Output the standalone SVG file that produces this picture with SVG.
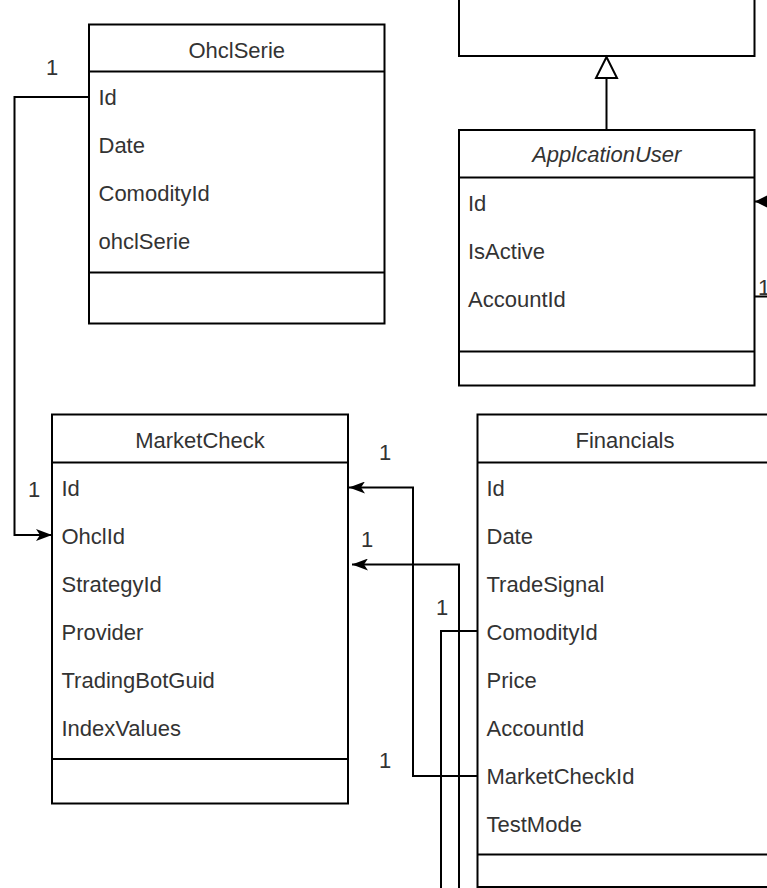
<svg xmlns="http://www.w3.org/2000/svg" width="767" height="888" viewBox="0 0 767 888">
  <style>
    .box { fill: #ffffff; stroke: #000000; stroke-width: 2; }
    .div { stroke: #000000; stroke-width: 2; fill: none; }
    .edge { stroke: #000000; stroke-width: 2; fill: none; }
    .t { font-family: "Liberation Sans", Arial, sans-serif; font-size: 22px; fill: #333333; }
    .h { text-anchor: middle; }
    .i { font-style: italic; }
    .m { font-family: "Liberation Sans", Arial, sans-serif; font-size: 22px; fill: #333333; text-anchor: middle; }
  </style>
  <defs>
    <marker id="arrow" markerUnits="userSpaceOnUse" viewBox="0 0 16 12" refX="16" refY="6" markerWidth="16" markerHeight="12" orient="auto">
      <path d="M0,0 L16,6 L0,12 L4,6 Z" fill="#000000"/>
    </marker>
    <marker id="block" markerUnits="userSpaceOnUse" viewBox="0 0 14 14" refX="14" refY="7" markerWidth="14" markerHeight="14" orient="auto">
      <path d="M0,0 L14,7 L0,14 Z" fill="#000000"/>
    </marker>
  </defs>

  <rect width="767" height="888" fill="#ffffff"/>

  <!-- parent class, cut off at the top -->
  <g id="node-base">
    <rect class="box" x="459" y="-50" width="295.5" height="106"/>
  </g>

  <g id="node-ohclserie">
    <rect class="box" x="89" y="24.5" width="295.5" height="299"/>
    <line class="div" x1="89" y1="71.5" x2="384.5" y2="71.5"/>
    <line class="div" x1="89" y1="272.5" x2="384.5" y2="272.5"/>
    <text class="t h" x="236.75" y="57.5">OhclSerie</text>
    <text class="t" x="98.5" y="105">Id</text>
    <text class="t" x="98.5" y="153">Date</text>
    <text class="t" x="98.5" y="201">ComodityId</text>
    <text class="t" x="98.5" y="249">ohclSerie</text>
  </g>

  <g id="node-applicationuser">
    <rect class="box" x="459" y="130" width="295.5" height="255.5"/>
    <line class="div" x1="459" y1="177.5" x2="754.5" y2="177.5"/>
    <line class="div" x1="459" y1="351.5" x2="754.5" y2="351.5"/>
    <text class="t h i" x="606.75" y="162">ApplcationUser</text>
    <text class="t" x="468" y="210.5">Id</text>
    <text class="t" x="468" y="258.5">IsActive</text>
    <text class="t" x="468" y="306.5">AccountId</text>
  </g>

  <g id="node-marketcheck">
    <rect class="box" x="52" y="414.5" width="296" height="389"/>
    <line class="div" x1="52" y1="462.5" x2="348" y2="462.5"/>
    <line class="div" x1="52" y1="759" x2="348" y2="759"/>
    <text class="t h" x="200" y="448">MarketCheck</text>
    <text class="t" x="61.5" y="496">Id</text>
    <text class="t" x="61.5" y="544">OhclId</text>
    <text class="t" x="61.5" y="592">StrategyId</text>
    <text class="t" x="61.5" y="640">Provider</text>
    <text class="t" x="61.5" y="688">TradingBotGuid</text>
    <text class="t" x="61.5" y="736">IndexValues</text>
  </g>

  <g id="node-financials">
    <rect class="box" x="477.5" y="414.5" width="295" height="472.5"/>
    <line class="div" x1="477.5" y1="462.5" x2="772.5" y2="462.5"/>
    <line class="div" x1="477.5" y1="854.5" x2="772.5" y2="854.5"/>
    <text class="t h" x="625" y="448">Financials</text>
    <text class="t" x="486.5" y="496">Id</text>
    <text class="t" x="486.5" y="544">Date</text>
    <text class="t" x="486.5" y="592">TradeSignal</text>
    <text class="t" x="486.5" y="640">ComodityId</text>
    <text class="t" x="486.5" y="688">Price</text>
    <text class="t" x="486.5" y="736">AccountId</text>
    <text class="t" x="486.5" y="784">MarketCheckId</text>
    <text class="t" x="486.5" y="832">TestMode</text>
  </g>

  <g id="connectors">
    <!-- inheritance: ApplcationUser to its parent -->
    <line class="edge" x1="606.5" y1="130" x2="606.5" y2="78"/>
    <polygon points="606.5,57 617,78 596,78" fill="#ffffff" stroke="#000000" stroke-width="2" stroke-linejoin="miter"/>

    <!-- OhclSerie.Id to MarketCheck.OhclId -->
    <path class="edge" d="M89,97 L14.5,97 L14.5,535 L52,535" marker-end="url(#arrow)"/>

    <!-- Financials.MarketCheckId to MarketCheck.Id -->
    <path class="edge" d="M477.5,776 L413,776 L413,487.5 L349,487.5" marker-end="url(#arrow)"/>

    <!-- relation entering MarketCheck from below -->
    <path class="edge" d="M459,895 L459,564.5 L352,564.5" marker-end="url(#arrow)"/>

    <!-- Financials.ComodityId going down -->
    <path class="edge" d="M477.5,631 L441,631 L441,895"/>

    <!-- relations leaving to the right of ApplcationUser -->
    <path class="edge" d="M790,201.5 L755,201.5" marker-end="url(#block)"/>
    <path class="edge" d="M754.5,296.5 L790,296.5"/>

    <!-- multiplicities -->
    <text class="m" x="52" y="75">1</text>
    <text class="m" x="34" y="497">1</text>
    <text class="m" x="385" y="460">1</text>
    <text class="m" x="367" y="547">1</text>
    <text class="m" x="442" y="615">1</text>
    <text class="m" x="385" y="768">1</text>
    <text class="m" x="764" y="295">1</text>
  </g>
</svg>
